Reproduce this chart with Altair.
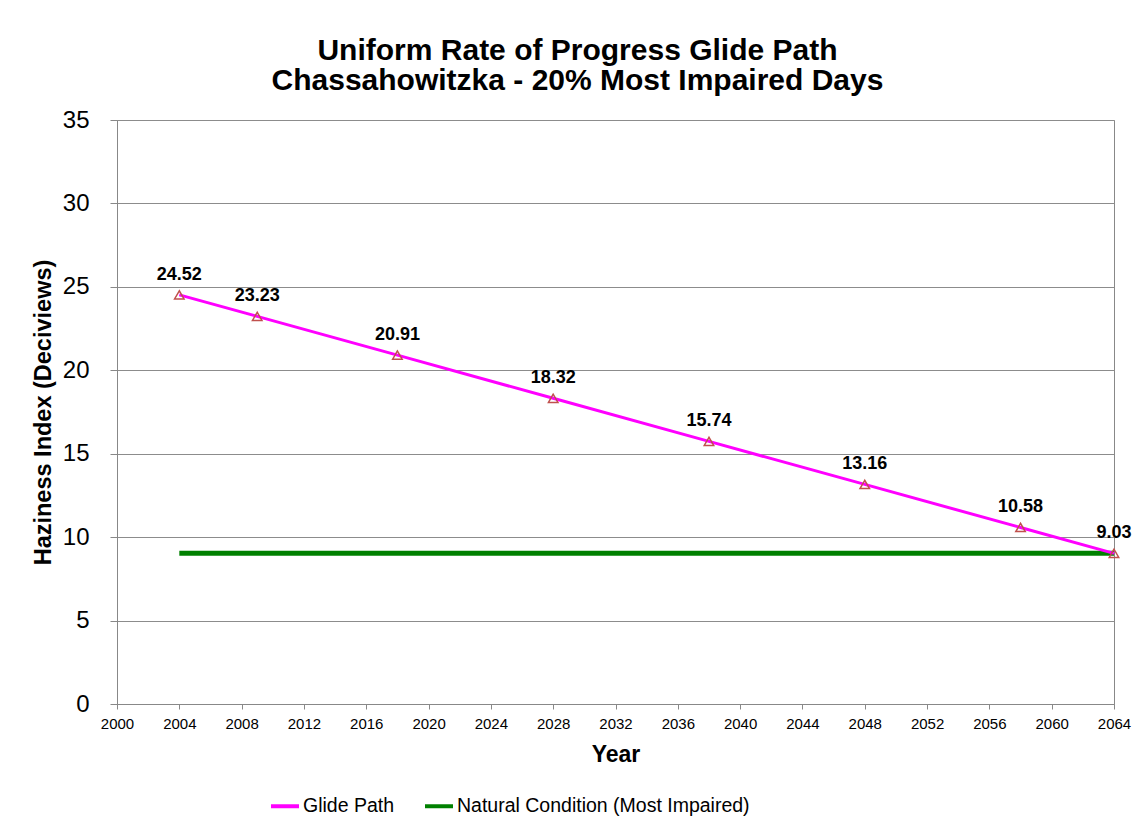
import altair as alt
import pandas as pd

years = [2004, 2009, 2018, 2028, 2038, 2048, 2058, 2064]
glide = [24.52, 23.23, 20.91, 18.32, 15.74, 13.16, 10.58, 9.03]
natural_years = [2004, 2064]
natural_vals = [9.03, 9.03]
x_ticks = list(range(2000, 2065, 4))
y_ticks = [0, 5, 10, 15, 20, 25, 30, 35]

S1 = "Glide Path"
S2 = "Natural Condition (Most Impaired)"

df_g = pd.DataFrame({"Year": years, "Value": glide, "Series": S1})
df_g["Label"] = [f"{v:.2f}" for v in glide]
df_n = pd.DataFrame({"Year": natural_years, "Value": natural_vals, "Series": S2})

FONT = "Liberation Sans"

xenc = alt.X("Year:Q", scale=alt.Scale(domain=[2000, 2064], nice=False),
             axis=alt.Axis(values=x_ticks, format="d", title="Year", grid=False,
                           labelFontSize=15, titleFontSize=23, titleFontWeight="bold",
                           labelPadding=7, titlePadding=12, tickSize=5,
                           domainColor="#888", tickColor="#888", labelColor="#000",
                           titleColor="#000", labelFlush=False))
yenc = alt.Y("Value:Q", scale=alt.Scale(domain=[0, 35], nice=False),
             axis=alt.Axis(values=y_ticks, title="Haziness Index (Deciviews)",
                           grid=True, gridColor="#8c8c8c", gridWidth=1,
                           labelFontSize=24, titleFontSize=23.5, titleFontWeight="bold",
                           labelPadding=21, titlePadding=7, tickSize=7,
                           domainColor="#888", tickColor="#888", labelColor="#000",
                           titleColor="#000"))

color = alt.Color("Series:N",
                  scale=alt.Scale(domain=[S1, S2], range=["#FF00FF", "#008000"]),
                  legend=alt.Legend(title=None, orient="none", direction="horizontal",
                                    legendX=152, legendY=670,
                                    symbolType="stroke", symbolStrokeWidth=4,
                                    symbolSize=784, labelFontSize=19.5, labelOffset=2,
                                    labelColor="#000", columnPadding=22,
                                    labelLimit=500))

nat = alt.Chart(df_n).mark_line(strokeWidth=5).encode(x=xenc, y=yenc, color=color)
gl = alt.Chart(df_g).mark_line(strokeWidth=3).encode(x=xenc, y=yenc, color=color)
pts = alt.Chart(df_g).mark_point(shape="triangle-up", filled=False, stroke="#C0504D",
                                 strokeWidth=1.5, size=90, opacity=1).encode(x=xenc, y=yenc)
lbl = alt.Chart(df_g).mark_text(dy=-20, fontSize=18, fontWeight="bold", color="#000",
                                font=FONT).encode(x=xenc, y=yenc, text="Label:N")

chart = alt.layer(nat, gl, pts, lbl).properties(
    width=997, height=584,
    autosize=alt.AutoSizeParams(type="none"),
    padding={"left": 109, "top": 112, "right": 20, "bottom": 122},
    title=alt.TitleParams(text=["Uniform Rate of Progress Glide Path",
                                "Chassahowitzka - 20% Most Impaired Days"],
                          fontSize=30, fontWeight="bold", color="#000",
                          lineHeight=30, offset=12, dx=-38, anchor="middle"),
).configure(font=FONT).configure_view(stroke="#888", strokeWidth=1)

chart.save("out.html", embed_options={"renderer": "svg", "actions": False})
